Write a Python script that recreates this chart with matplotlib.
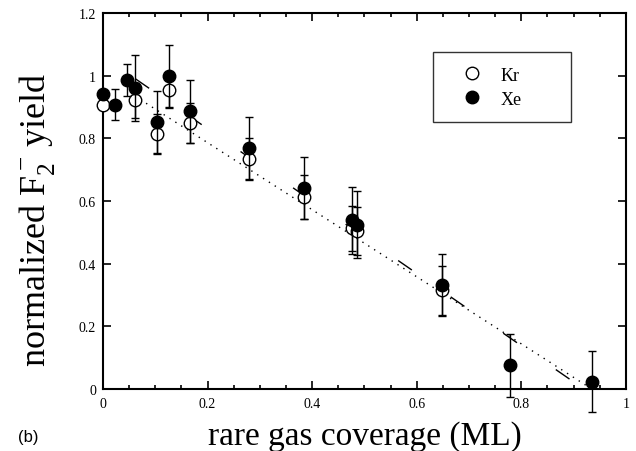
import matplotlib

matplotlib.use("Agg")
import matplotlib.pyplot as plt
from matplotlib.ticker import MultipleLocator, FuncFormatter

# Xe (filled) yields vs coverage
xe_cov = [0.0, 0.022, 0.046, 0.062, 0.103, 0.127, 0.166, 0.279, 0.385,
          0.4755, 0.485, 0.648, 0.779, 0.936]
xe_yield = [0.943, 0.908, 0.986, 0.961, 0.851, 1.0, 0.886, 0.768, 0.642,
            0.538, 0.525, 0.332, 0.076, 0.024]
xe_err = [0.0, 0.049, 0.052, 0.106, 0.10, 0.099, 0.10, 0.10, 0.10,
          0.108, 0.108, 0.10, 0.10, 0.097]

# Kr (open) yields vs coverage
kr_cov = [0.0, 0.062, 0.103, 0.127, 0.166, 0.279, 0.385, 0.4755, 0.485, 0.648]
kr_yield = [0.906, 0.921, 0.815, 0.955, 0.849, 0.735, 0.614, 0.513, 0.504, 0.315]
kr_err = [0.0, 0.055, 0.063, 0.058, 0.063, 0.066, 0.07, 0.072, 0.077, 0.079]

# linear guides
dash_x = [0.062, 0.92]
dash_y = [0.99, 0.0]
dot_x = [0.06, 0.935]
dot_y = [0.936, 0.0]

plt.rcParams["font.family"] = ["Liberation Serif", "DejaVu Serif"]
plt.rcParams["mathtext.fontset"] = "custom"
plt.rcParams["mathtext.rm"] = "Liberation Serif"

fig = plt.figure(figsize=(6.36, 4.52), dpi=100)
ax = fig.add_axes([0.162, 0.137, 0.822, 0.832])

ax.plot(dash_x, dash_y, color="black", lw=1.0, dashes=(12, 34))
ax.plot(dot_x, dot_y, color="black", lw=1.0, dashes=(1, 4))

ax.errorbar(kr_cov, kr_yield, yerr=kr_err, fmt="o", ms=9, mfc="white",
            mec="black", mew=1.0, ecolor="black", elinewidth=1.0,
            capsize=3, capthick=1.0, label="Kr", zorder=3, clip_on=False)
ax.errorbar(xe_cov, xe_yield, yerr=xe_err, fmt="o", ms=9, mfc="black",
            mec="black", ecolor="black", elinewidth=1.0,
            capsize=3, capthick=1.0, label="Xe", zorder=4, clip_on=False)

ax.set_xlim(0, 1)
ax.set_ylim(0, 1.2)
ax.xaxis.set_major_locator(MultipleLocator(0.2))
ax.xaxis.set_minor_locator(MultipleLocator(0.05))
ax.yaxis.set_major_locator(MultipleLocator(0.2))
fmt = FuncFormatter(lambda v, pos: f"{v:.1f}".rstrip("0").rstrip(".") if v else "0")
ax.xaxis.set_major_formatter(fmt)
ax.yaxis.set_major_formatter(fmt)
ax.tick_params(which="both", direction="in", top=True, right=True,
               labelsize=10, width=1.2)
ax.tick_params(which="major", length=6)
ax.tick_params(axis="x", which="major", pad=6)
ax.tick_params(axis="y", which="major", pad=5)
ax.tick_params(which="minor", length=3)
for s in ax.spines.values():
    s.set_linewidth(1.5)

ax.set_xlabel("rare gas coverage (ML)", fontsize=24, labelpad=7)
ax.set_ylabel(r"normalized F$_\mathregular{2}^{\,\mathregular{-}}$ yield",
              fontsize=26)
ax.yaxis.set_label_coords(-0.088, 0.453)

handles, labels = ax.get_legend_handles_labels()
handles = [h[0] for h in handles]
leg = ax.legend(handles, labels, loc="upper left", mode="expand",
                bbox_to_anchor=(0.631, 0.72, 0.264, 0.176), fontsize=13,
                frameon=True, fancybox=False, borderpad=0.8,
                labelspacing=0.4, handletextpad=0.25, handlelength=2.7,
                borderaxespad=0)
leg.get_frame().set_edgecolor("black")
leg.get_frame().set_linewidth(1.0)

fig.text(0.028, 0.022, "(b)", fontsize=12, family="Liberation Sans")

fig.savefig("out.png", dpi=100)
